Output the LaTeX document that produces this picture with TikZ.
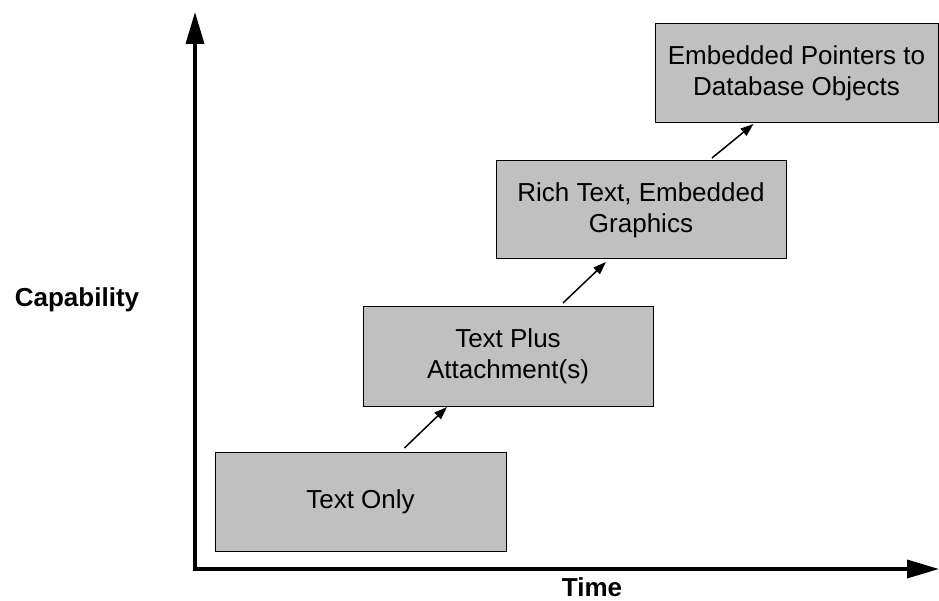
\documentclass[tikz,border=0pt]{standalone}
\usepackage{fontspec}
\setmainfont{Liberation Sans}
\usetikzlibrary{arrows.meta}
\definecolor{boxgray}{RGB}{192,192,192}
\tikzset{
  stage/.style={draw=black, line width=1pt, fill=boxgray, inner sep=0pt, outer sep=0pt,
    align=center, font=\fontsize{26}{31}\selectfont},
  axisline/.style={line width=3.5pt, line join=miter,
    {Triangle[length=32pt,width=18pt]}-{Triangle[length=32pt,width=18pt]}},
  steparrow/.style={line width=1.5pt, -{Triangle[length=13pt,width=9pt]}},
  axislabel/.style={font=\fontsize{26}{31}\selectfont\bfseries, inner sep=0pt, anchor=base}
}
\begin{document}
\begin{tikzpicture}[x=1pt, y=-1pt]
\useasboundingbox (0,0) rectangle (939,601);

% axes
\coordinate (top) at (195,12);
\coordinate (origin) at (195,569);
\coordinate (right) at (939,569);
\draw[axisline] (top) -- (origin) -- (right);

\node[axislabel] (cap) at (77,307) {Capability};
\node[axislabel] (time) at (592,596) {Time};

% stages
\node[stage, minimum width=291pt, minimum height=99pt] (b1) at (360.5,501.5) {Text Only};
\node[stage, minimum width=290pt, minimum height=99pt] (b2) at (508,356.5) {Text Plus\\Attachment(s)};
\node[stage, minimum width=290pt, minimum height=98pt] (b3) at (641,210) {Rich Text, Embedded\\Graphics};
\node[stage, minimum width=283pt, minimum height=99pt] (b4) at (796.5,73.5) {Embedded Pointers to\\Database Objects};

% progression arrows
\draw[steparrow] ([shift={(44pt,4pt)}]b1.north) -- ([shift={(-61pt,-1pt)}]b2.south);
\draw[steparrow] ([shift={(55pt,4pt)}]b2.north) -- ([shift={(-35pt,-3pt)}]b3.south);
\draw[steparrow] ([shift={(71pt,3pt)}]b3.north) -- ([shift={(-43pt,-1pt)}]b4.south);
\end{tikzpicture}
\end{document}
